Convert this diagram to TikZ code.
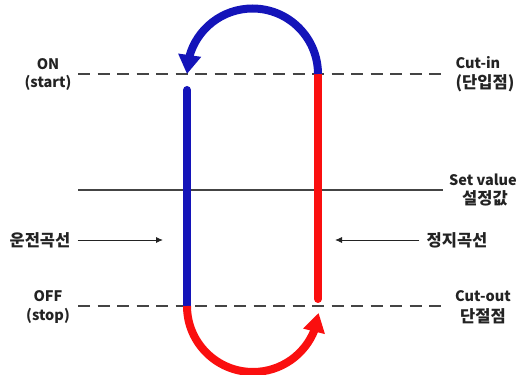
\documentclass[tikz,border=0pt]{standalone}
\usepackage{fontspec}
\setmainfont{Noto Sans CJK KR}
\usetikzlibrary{arrows.meta,bending}
\definecolor{runblue}{RGB}{20,20,185}
\definecolor{stopred}{RGB}{250,15,15}
\definecolor{txt}{RGB}{35,35,35}
\tikzset{
  lbl/.style={font=\fontsize{14.5}{15}\selectfont\bfseries, text=txt, inner sep=0pt, align=center},
  klbl/.style={font=\fontsize{16.5}{17}\selectfont\bfseries, text=txt, inner sep=0pt, align=center},
  refdash/.style={draw=txt!85, line width=1.5pt, dash pattern=on 12pt off 7.5pt},
  refsolid/.style={draw=txt!85, line width=1.4pt},
  thick8/.style={line width=8pt},
  thinarrow/.style={draw=txt, line width=0.9pt, -{Latex[length=7pt,width=6pt]}}
}
\begin{document}
\begin{tikzpicture}[x=1pt,y=1pt]
\useasboundingbox (0,0) rectangle (520,375);
% reference lines
\coordinate (onL) at (78,301); \coordinate (onR) at (443,301);
\coordinate (setL) at (78,185); \coordinate (setR) at (443,185);
\coordinate (offL) at (78,69); \coordinate (offR) at (443,69);
\draw[refdash] (onL) -- (onR);
\draw[refsolid] (setL) -- (setR);
\draw[refdash] (offL) -- (offR);
% vertical curves
\coordinate (lTop) at (187,285); \coordinate (lBot) at (187,69);
\coordinate (rTop) at (318,301); \coordinate (rBot) at (318,76);
\draw[thick8, runblue, line cap=round] (lTop) -- (lBot);
\draw[thick8, stopred, line cap=round] (rTop) -- (rBot);
% top arc (blue)
\draw[thick8, runblue, -{Triangle[length=19pt,width=22pt,flex]}] (318,301) arc (0:180:65.5);
% bottom arc (red)
\draw[thick8, stopred, -{Triangle[length=19pt,width=21pt,flex]}] (187,69) arc (180:354:66);
% thin arrows
\node[klbl] (run) at (40,135) {운전곡선};
\node[klbl] (stp) at (457,135) {정지곡선};
\coordinate (runTip) at (163,135);
\coordinate (stpTip) at (335,135);
\draw[thinarrow] (run.east) ++(7,0) -- (runTip);
\draw[thinarrow] (stp.west) ++(-7,0) -- (stpTip);
% labels
\node[lbl] (on) at (48,311) {ON};
\node[lbl] (start) at (48,292) {(start)};
\node[lbl] (cutin) at (478,312) {Cut-in};
\node[klbl] (cutinK) at (485,292) {(단입점)};
\node[lbl] (setv) at (483,195) {Set value};
\node[klbl] (setK) at (485,177) {설정값};
\node[lbl] (off) at (48,79) {OFF};
\node[lbl] (stop) at (48,59) {(stop)};
\node[lbl] (cutout) at (483,79) {Cut-out};
\node[klbl] (cutoutK) at (483,59) {단절점};
\end{tikzpicture}
\end{document}
